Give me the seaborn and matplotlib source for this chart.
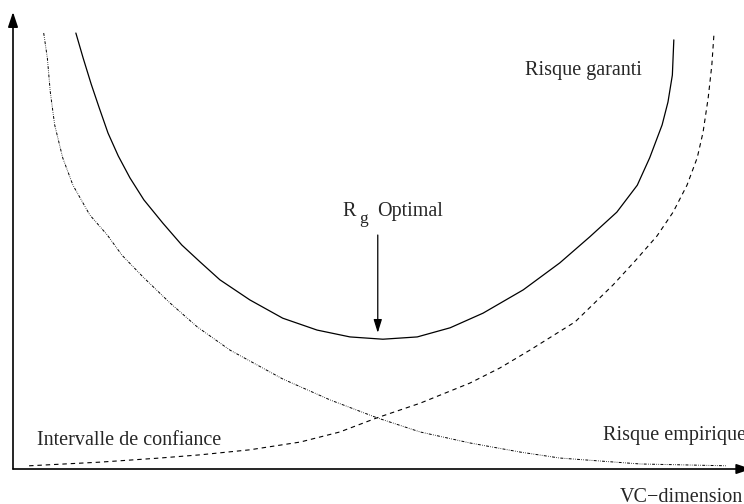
import numpy as np
import pandas as pd
import seaborn as sns
import matplotlib.pyplot as plt

garanti_x = [0.86, 0.96, 1.07, 1.18, 1.30, 1.44, 1.60, 1.79, 2.05, 2.31, 2.56, 2.83, 3.24,
             3.69, 4.16, 4.61, 5.06, 5.53, 5.98, 6.43, 6.98, 7.48, 7.89, 8.26, 8.54, 8.71,
             8.88, 8.96, 9.02, 9.04]
garanti_y = [9.54, 8.99, 8.42, 7.90, 7.35, 6.85, 6.37, 5.89, 5.38, 4.90, 4.53, 4.14, 3.70,
             3.30, 3.04, 2.89, 2.84, 2.89, 3.09, 3.41, 3.92, 4.51, 5.08, 5.62, 6.21, 6.81,
             7.53, 8.03, 8.62, 9.39]

confiance_x = [0.42, 0.47, 0.51, 0.57, 0.68, 0.82, 1.05, 1.29, 1.49, 1.78, 2.15, 2.52, 2.97,
               3.69, 4.34, 4.98, 5.57, 6.25, 6.94, 7.48, 8.58, 9.77]
confiance_y = [9.54, 8.99, 8.25, 7.53, 6.81, 6.21, 5.56, 5.12, 4.68, 4.20, 3.63, 3.11, 2.60,
               1.97, 1.51, 1.12, 0.81, 0.57, 0.37, 0.24, 0.11, 0.07]

empirique_x = [0.22, 1.19, 2.01, 2.56, 3.24, 3.93, 4.47, 4.98, 5.57, 6.25, 6.66, 7.07, 7.69,
               8.21, 8.52, 8.81, 9.03, 9.22, 9.36, 9.44, 9.51, 9.56, 9.59]
empirique_y = [0.07, 0.15, 0.24, 0.31, 0.42, 0.59, 0.81, 1.12, 1.44, 1.88, 2.21, 2.60, 3.22,
               4.03, 4.57, 5.10, 5.62, 6.21, 6.81, 7.37, 8.12, 8.84, 9.54]

optimum_x = 4.99
optimum_y = 2.98

sns.set_style("white")
plt.rcParams['font.family'] = ['Liberation Serif', 'DejaVu Serif']

fig = plt.figure(figsize=(7.44, 5.04), dpi=100)
ax = fig.add_axes([13 / 744, 35 / 504, 731 / 744, 457 / 504])

sns.lineplot(x=garanti_x, y=garanti_y, ax=ax, sort=False, estimator=None,
             color='black', linewidth=0.9)
sns.lineplot(x=empirique_x, y=empirique_y, ax=ax, sort=False, estimator=None,
             color='black', linewidth=0.8, linestyle=(0, (4, 3.5)))
sns.lineplot(x=confiance_x, y=confiance_y, ax=ax, sort=False, estimator=None,
             color='black', linewidth=0.7, linestyle=(0, (3, 1.4, 0.7, 1.4, 0.7, 1.4)))

ax.set_xlim(0, 10)
ax.set_ylim(0, 10)
ax.set_xticks([])
ax.set_yticks([])
for s in ax.spines.values():
    s.set_visible(False)

# axes avec flèches
ax.annotate('', xy=(0, 10.0), xytext=(0, 0), annotation_clip=False,
            arrowprops=dict(arrowstyle='-|>,head_length=0.9,head_width=0.3',
                            color='black', lw=1.2, shrinkA=0, shrinkB=0))
ax.annotate('', xy=(10.1, 0), xytext=(0, 0), annotation_clip=False,
            arrowprops=dict(arrowstyle='-|>,head_length=0.9,head_width=0.3',
                            color='black', lw=1.2, shrinkA=0, shrinkB=0))

# flèche vers l'optimum
ax.annotate('', xy=(optimum_x, optimum_y), xytext=(optimum_x, 5.12),
            arrowprops=dict(arrowstyle='-|>,head_length=0.8,head_width=0.25',
                            color='black', lw=0.9, shrinkA=0, shrinkB=0))

fs = 14.5
ax.text(4.51, 5.54, 'R', fontsize=fs, va='baseline', ha='left')
ax.text(4.74, 5.38, 'g', fontsize=12.5, va='baseline', ha='left')
ax.text(4.98, 5.54, 'Optimal', fontsize=fs, va='baseline', ha='left')
ax.text(7.00, 8.73, 'Risque garanti', fontsize=fs, va='center', ha='left')
ax.text(0.33, 0.63, 'Intervalle de confiance', fontsize=fs, va='center', ha='left')
ax.text(8.07, 0.74, 'Risque empirique', fontsize=fs, va='center', ha='left', clip_on=False)
ax.text(8.30, -0.63, 'VC\u2212dimension', fontsize=fs, va='center', ha='left', clip_on=False)

fig.savefig('out.png', dpi=100)
